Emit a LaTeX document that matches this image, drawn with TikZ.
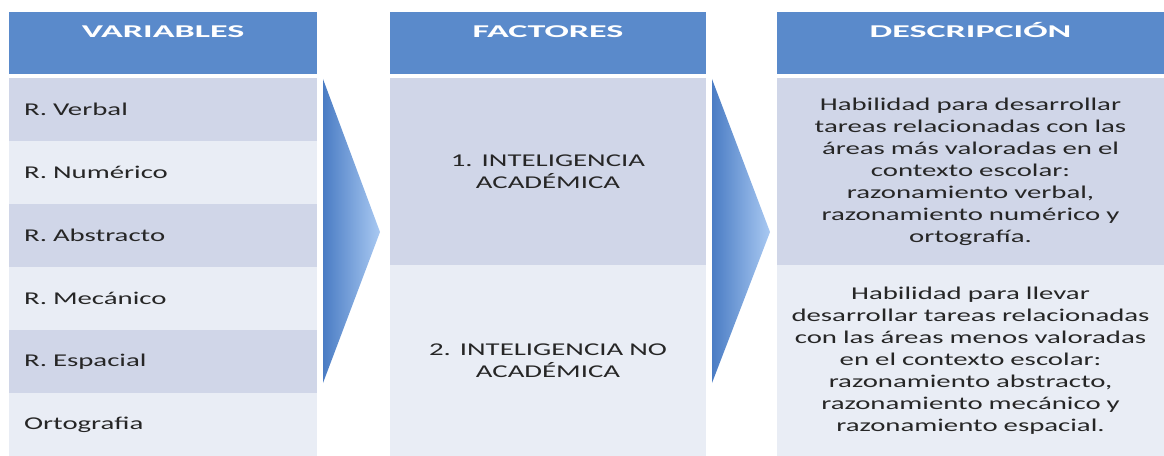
\documentclass[tikz,border=0pt]{standalone}
\usepackage{fontspec}
\setmainfont{Carlito}[FakeStretch=1.6]
\newfontfamily\hdfont{Carlito}[FakeStretch=2.0]
\usetikzlibrary{positioning}
\definecolor{hdblue}{HTML}{5A8ACB}
\definecolor{rowdark}{HTML}{D0D6E8}
\definecolor{rowlight}{HTML}{E9EDF5}
\definecolor{arrdark}{HTML}{4A7CC4}
\definecolor{arrlight}{HTML}{A9C9F2}
\definecolor{txt}{HTML}{262626}

\begin{document}
\begin{tikzpicture}[x=0.75pt,y=-0.75pt,node distance=0pt,
		head/.style={fill=hdblue,text=white,font=\hdfont\bfseries\fontsize{13.5}{16.5}\selectfont,anchor=north west,outer sep=0pt,inner xsep=0pt,inner ysep=4.25pt,text height=15pt,text depth=23pt,text width=#1,align=center},
		var/.style={outer sep=0pt,inner xsep=11.25pt,inner ysep=0pt,minimum height=47.25pt,text width=208.5pt,align=left,text=txt,font=\fontsize{13.5}{16.5}\selectfont},
		fac/.style={outer sep=0pt,inner sep=0pt,minimum height=#1,text width=237pt,align=center,text=txt,font=\fontsize{13.5}{16.5}\selectfont},
		desc/.style={outer sep=0pt,inner sep=0pt,minimum height=#1,text width=290.25pt,align=center,text=txt,font=\fontsize{13.5}{16.5}\selectfont},
		arrow/.style={left color=arrdark,right color=arrlight}]
	\useasboundingbox (0,0) rectangle (1164,456);

	% variables
	\node[head=231pt]							(hvar)	at (9,12)	{VARIABLES};
	\node[var,fill=rowdark,below=3pt of hvar]	(v1)	{R. Verbal};
	\node[var,fill=rowlight,below=of v1]		(v2)	{R. Numérico};
	\node[var,fill=rowdark,below=of v2]			(v3)	{R. Abstracto};
	\node[var,fill=rowlight,below=of v3]		(v4)	{R. Mecánico};
	\node[var,fill=rowdark,below=of v4]			(v5)	{R. Espacial};
	\node[var,fill=rowlight,below=of v5]		(v6)	{Ortografia};

	% factores
	\node[head=237pt]								(hfac)	at (390,12)	{FACTORES};
	\node[fac=140.25pt,fill=rowdark,below=3pt of hfac]	(f1)	{1. INTELIGENCIA\\ACADÉMICA};
	\node[fac=143.25pt,fill=rowlight,below=of f1]		(f2)	{2. INTELIGENCIA NO\\ACADÉMICA};

	% descripcion
	\node[head=290.25pt]								(hdes)	at (777,12)	{DESCRIPCIÓN};
	\node[desc=140.25pt,fill=rowdark,below=3pt of hdes]	(d1)	{Habilidad para desarrollar\\tareas relacionadas con las\\áreas más valoradas en el\\contexto escolar:\\razonamiento verbal,\\razonamiento numérico y\\ortografía.};
	\node[desc=143.25pt,fill=rowlight,below=of d1]		(d2)	{Habilidad para llevar\\desarrollar tareas relacionadas\\con las áreas menos valoradas\\en el contexto escolar:\\razonamiento abstracto,\\razonamiento mecánico y\\razonamiento espacial.};

	% flechas
	\shade[arrow] (323,79) -- (380,232) -- (323,383) -- cycle;
	\shade[arrow] (712,79) -- (770,232) -- (712,383) -- cycle;
\end{tikzpicture}
\end{document}
